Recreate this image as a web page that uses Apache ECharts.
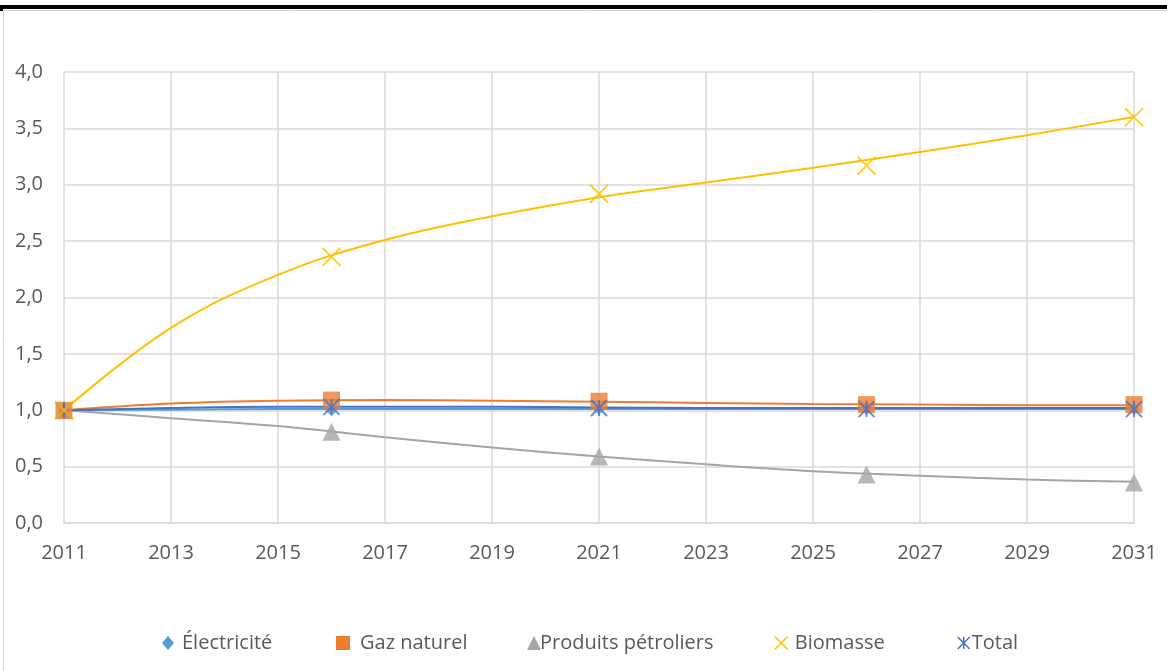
<!DOCTYPE html>
<html><head><meta charset="utf-8">
<script src="https://cdn.jsdelivr.net/npm/echarts@6/dist/echarts.min.js"></script>
<style>html,body{margin:0;padding:0;background:#fff}#c{width:1167px;height:671px}</style>
</head><body><div id="c"></div>
<script>
// Data
const markerYears = [2011, 2016, 2021, 2026, 2031];
const elecPts  = [1.00, 1.00, 1.01, 1.01, 1.01];
const gazPts   = [1.00, 1.09, 1.08, 1.05, 1.05];
const petroPts = [1.00, 0.81, 0.59, 0.43, 0.36];
const bioPts   = [1.00, 2.36, 2.92, 3.17, 3.60];
const totalPts = [1.00, 1.03, 1.02, 1.01, 1.01];

// Trend curves read at odd years
const trendYears = [2011, 2013, 2015, 2017, 2019, 2021, 2023, 2025, 2027, 2029, 2031];
const elecTrend  = [1.00, 1.005, 1.01, 1.01, 1.01, 1.01, 1.01, 1.01, 1.01, 1.01, 1.01];
const gazTrend   = [1.00, 1.06, 1.085, 1.09, 1.085, 1.075, 1.065, 1.055, 1.05, 1.045, 1.045];
const petroTrend = [1.00, 0.93, 0.86, 0.76, 0.67, 0.59, 0.52, 0.46, 0.42, 0.385, 0.365];
const bioTrend   = [1.00, 1.73, 2.20, 2.51, 2.72, 2.89, 3.02, 3.15, 3.29, 3.44, 3.60];
const totalTrend = [1.00, 1.02, 1.03, 1.03, 1.03, 1.025, 1.02, 1.02, 1.02, 1.02, 1.02];

const names = ['Électricité', 'Gaz naturel', 'Produits pétroliers', 'Biomasse', 'Total'];
const colors = ['#5B9BD5', '#ED7D31', '#A5A5A5', '#FFC000', '#4472C4'];

const XPATH = 'path://M0,0L10,10M10,0L0,10';
const STARPATH = 'path://M0,0L10,10M10,0L0,10M5,0L5,10';
const symbols = ['diamond', 'rect', 'triangle', XPATH, STARPATH];
const symSizes = [12, 17, 18, 18, 16];
const pts = [elecPts, gazPts, petroPts, bioPts, totalPts];
const trends = [elecTrend, gazTrend, petroTrend, bioTrend, totalTrend];

const font = '"Open Sans", "Noto Sans", sans-serif';
const series = [];
[0, 2, 1, 4, 3].forEach(i => {
  series.push({
    type: 'line', name: names[i], smooth: 0.4, showSymbol: false, silent: true,
    data: trendYears.map((y, k) => [y, trends[i][k]]),
    lineStyle: { color: colors[i], width: 2 }, itemStyle: { color: colors[i] }, z: 2
  });
});
[0, 2, 1, 4, 3].forEach(i => {
  const stroke = i >= 3;
  series.push({
    type: 'scatter', name: names[i], symbol: symbols[i], symbolSize: symSizes[i],
    data: markerYears.map((y, k) => [y, pts[i][k]]),
    itemStyle: stroke ? { color: colors[i], borderColor: colors[i], borderWidth: 2 } : { color: colors[i] },
    z: 3
  });
});

const legendPos = [
  { left: 157, icon: 'diamond', w: 12, h: 14, pad: 3 },
  { left: 331, icon: 'rect', w: 14, h: 14, pad: 5 },
  { left: 522, icon: 'triangle', w: 14, h: 14, pad: -6 },
  { left: 769, icon: XPATH, w: 13, h: 14, pad: 2 },
  { left: 952, icon: STARPATH, w: 12, h: 14, pad: -3 }
];
const legends = names.map((n, i) => ({
  left: legendPos[i].left, top: 628, itemWidth: legendPos[i].w, itemHeight: legendPos[i].h,
  itemGap: 0,
  data: [{ name: n, icon: legendPos[i].icon,
    itemStyle: i >= 3 ? { color: colors[i], borderColor: colors[i], borderWidth: 1.5 } : { color: colors[i], borderWidth: 0 } }],
  textStyle: { color: '#595959', fontSize: 20, fontFamily: font, padding: [0, 0, 0, legendPos[i].pad] },
  selectedMode: false
}));

const chart = echarts.init(document.getElementById('c'));
chart.setOption({
  animation: false,
  backgroundColor: '#fff',
  graphic: [
    { type: 'rect', shape: { x: 3.5, y: 10.5, width: 1180, height: 680 }, style: { fill: 'none', stroke: '#D9D9D9', lineWidth: 1 }, z: -1 },
    { type: 'rect', shape: { x: 0, y: 5, width: 1167, height: 4 }, style: { fill: '#000' } },
    { type: 'rect', shape: { x: 0, y: 5, width: 3, height: 6 }, style: { fill: '#000' } }
  ],
  grid: { left: 64, right: 33, top: 72, bottom: 148 },
  xAxis: {
    type: 'value', min: 2011, max: 2031, interval: 2,
    axisLine: { show: true, lineStyle: { color: '#D9D9D9', width: 1.5 } },
    axisTick: { show: false },
    splitLine: { show: true, lineStyle: { color: '#D9D9D9', width: 1.5 } },
    axisLabel: { color: '#595959', fontSize: 20, fontFamily: font, margin: 20, formatter: v => String(v) }
  },
  yAxis: {
    type: 'value', min: 0, max: 4, interval: 0.5,
    axisLine: { show: false }, axisTick: { show: false },
    splitLine: { lineStyle: { color: '#D9D9D9', width: 1.5 } },
    axisLabel: { color: '#595959', fontSize: 20, fontFamily: font, margin: 21, formatter: v => v.toFixed(1).replace('.', ',') }
  },
  legend: legends,
  series: series
});
</script></body></html>
